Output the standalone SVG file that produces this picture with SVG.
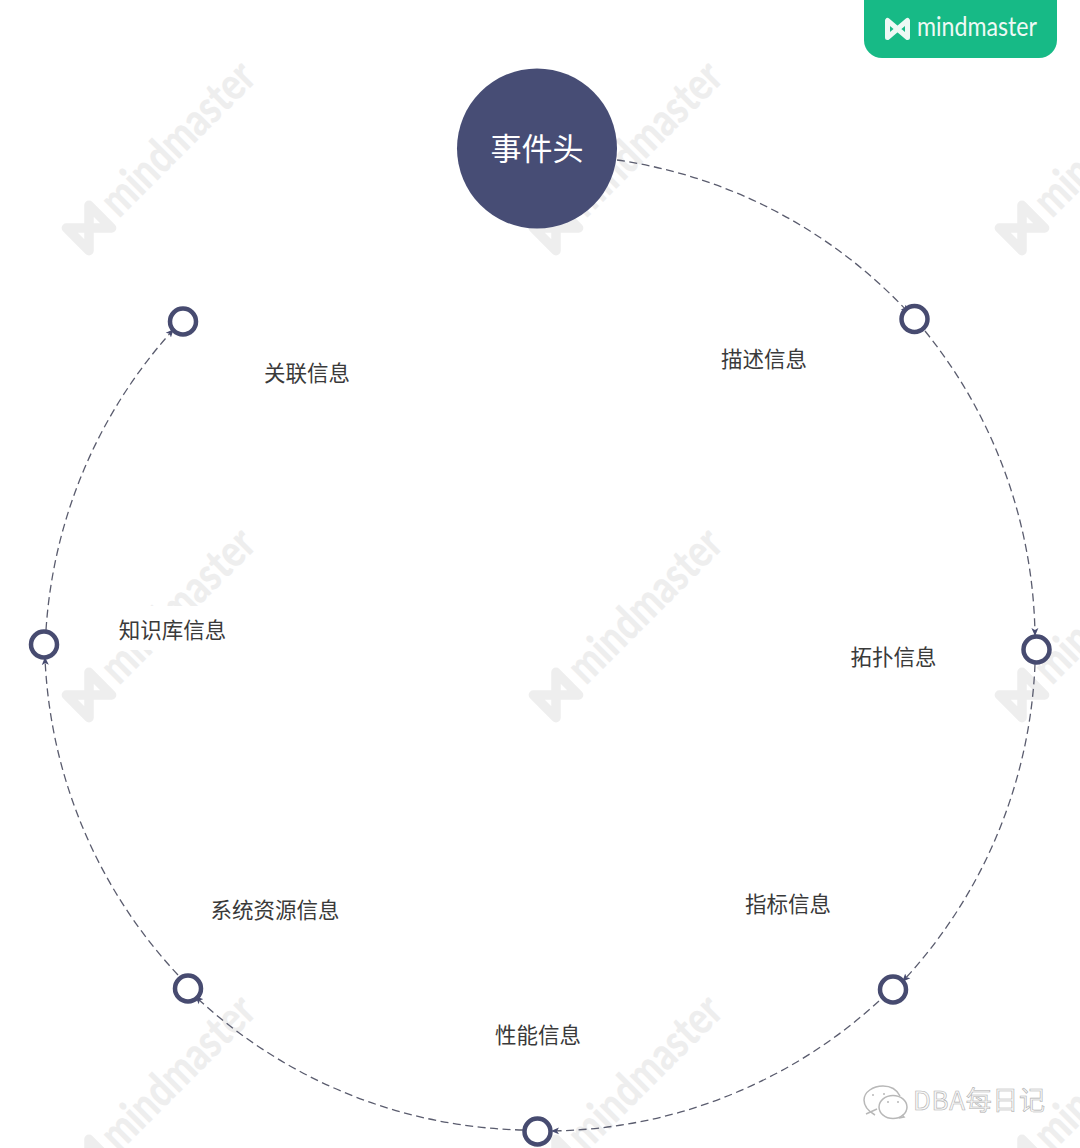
<svg xmlns="http://www.w3.org/2000/svg" width="1080" height="1148" viewBox="0 0 1080 1148">
<style>
.cjk{font-family:"Noto Sans CJK SC","Liberation Sans",sans-serif}
.lbl{font-size:21.500px;fill:#3a3a3a;text-anchor:middle}
.dot{fill:#fff;stroke:#474b70;stroke-width:4.500}
.arc{fill:none;stroke:#5a5c6e;stroke-width:1.300;stroke-dasharray:8 4.500;marker-end:url(#ah)}
.wmt{font-family:"Lato","Liberation Sans",sans-serif;font-weight:900;font-size:46px;fill:#eeeeee}
.wmg{fill:none;stroke:#eeeeee;stroke-width:9.500;stroke-linejoin:round}
</style>
<defs>
<marker id="ah" markerWidth="9" markerHeight="8" refX="7" refY="4" orient="auto" markerUnits="userSpaceOnUse"><path d="M0 0.500L8 4L0 7.500L2 4Z" fill="#474b70"/></marker>
<g id="wm">
<path class="wmg" d="M-16 -16L-16 16L16 -16L16 16Z" transform="rotate(-45)"/>
<text class="wmt" transform="translate(30,-9) rotate(-45)" textLength="197" lengthAdjust="spacingAndGlyphs">mindmaster</text>
</g>
</defs>
<rect width="1080" height="1148" fill="#fff"/>
<g id="watermarks">
<use href="#wm" x="89" y="228"/><use href="#wm" x="556" y="228"/><use href="#wm" x="1022" y="228"/>
<use href="#wm" x="89" y="695"/><use href="#wm" x="556" y="695"/><use href="#wm" x="1022" y="695"/>
<use href="#wm" x="89" y="1162"/><use href="#wm" x="556" y="1162"/><use href="#wm" x="1022" y="1162"/>
<rect x="105" y="606" width="135" height="44" fill="#fff"/>
</g>
<g id="brand">
<path d="M864 -5H1057V40A18 18 0 0 1 1039 58H882A18 18 0 0 1 864 40Z" fill="#17ba86"/>
<path d="M887.500 20.500L887.500 37.500L907.500 20.500L907.500 37.500Z" fill="none" stroke="#eef9f5" stroke-width="5" stroke-linejoin="round"/>
<text x="917" y="36" font-family="Lato,'Liberation Sans',sans-serif" font-weight="400" font-size="26" fill="#eef9f5" textLength="120" lengthAdjust="spacingAndGlyphs">mindmaster</text>
</g>
<g id="connectors">
<path class="arc" d="M617 160A495 495 0 0 1 908 312"/>
<path class="arc" d="M925 331A495 495 0 0 1 1035 635"/>
<path class="arc" d="M1035 664A495 495 0 0 1 903 981"/>
<path class="arc" d="M879 1001A495 495 0 0 1 552 1131"/>
<path class="arc" d="M523 1130A495 495 0 0 1 196 997"/>
<path class="arc" d="M178 975A495 495 0 0 1 45 658"/>
<path class="arc" d="M46 630A495 495 0 0 1 173 330"/>
</g>
<g id="head"><circle cx="537" cy="148.500" r="80" fill="#474d75"/><text class="cjk" x="537" y="160" font-size="31" fill="#fff" text-anchor="middle">事件头</text></g>
<g id="n1"><circle class="dot" cx="914.500" cy="319" r="13"/><text class="cjk lbl" x="764" y="366.500">描述信息</text></g>
<g id="n2"><circle class="dot" cx="1036.500" cy="649.500" r="13"/><text class="cjk lbl" x="893.500" y="664.500">拓扑信息</text></g>
<g id="n3"><circle class="dot" cx="893" cy="989.500" r="13"/><text class="cjk lbl" x="788" y="912">指标信息</text></g>
<g id="n4"><circle class="dot" cx="537.500" cy="1131.500" r="13"/><text class="cjk lbl" x="538" y="1042.500">性能信息</text></g>
<g id="n5"><circle class="dot" cx="188" cy="988.500" r="13"/><text class="cjk lbl" x="275" y="917.500">系统资源信息</text></g>
<g id="n6"><circle class="dot" cx="44" cy="644.500" r="13"/><text class="cjk lbl" x="172.500" y="637.500">知识库信息</text></g>
<g id="n7"><circle class="dot" cx="183" cy="321.500" r="13"/><text class="cjk lbl" x="307" y="380.500">关联信息</text></g>
<g id="wechat" fill="none" stroke="#b8b8b8" stroke-width="1.500">
<path d="M875 1115C868 1111 864 1105 864 1100C864 1092 873 1086 883 1086C891 1086 897 1090 900 1096"/>
<path d="M866 1114L877 1109"/>
<ellipse cx="893" cy="1107" rx="14" ry="11.500" fill="#fff"/>
<path d="M899 1118L904 1117L902 1115"/>
<circle cx="873" cy="1095" r="1" fill="#b8b8b8" stroke="none"/><circle cx="884" cy="1094" r="1" fill="#b8b8b8" stroke="none"/>
<circle cx="888" cy="1102" r="1" fill="#b8b8b8" stroke="none"/><circle cx="898" cy="1102" r="1" fill="#b8b8b8" stroke="none"/>
<text x="913" y="1110" font-size="26" fill="#f8f8f8" stroke="#b0b0b0" stroke-width="0.600" textLength="132" class="cjk">DBA每日记</text>
</g>
</svg>
